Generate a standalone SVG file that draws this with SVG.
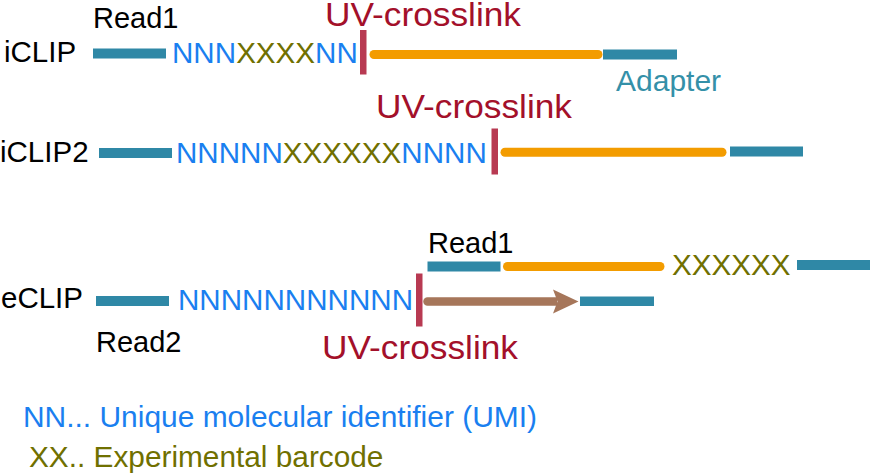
<svg xmlns="http://www.w3.org/2000/svg" width="870" height="474" viewBox="0 0 870 474">
<style>
text{font-family:"Liberation Sans",Arial,sans-serif;}
.lbl{font-size:29.5px;fill:#000;}
.rd{font-size:29px;fill:#000;}
.uv{font-size:32.5px;fill:#A3102A;}
.umi{font-size:29.6px;fill:#1A7FF0;}
.bc{fill:#707000;}
.ad{font-size:30px;fill:#3490A8;}
.bar{fill:#2F88A6;}
.xl{fill:#B83A52;}
.rna{stroke:#F39C00;stroke-width:9;stroke-linecap:round;fill:none;}
.leg{font-size:29.8px;}
.arr{fill:#A6765A;}
</style>

<g id="iclip">
<text class="lbl" x="4" y="62">iCLIP</text>
<text class="rd" x="93" y="28">Read1</text>
<rect class="bar" x="93" y="48.5" width="73" height="10"/>
<text class="umi" x="172" y="62.5">NNN<tspan class="bc">XXXX</tspan>NN</text>
<text class="uv" x="325" y="26" textLength="196" lengthAdjust="spacingAndGlyphs">UV-crosslink</text>
<rect class="xl" x="360" y="30" width="6.5" height="44.5"/>
<line class="rna" x1="374" y1="54.5" x2="598" y2="54.5"/>
<rect class="bar" x="603" y="49.5" width="74" height="10"/>
<text class="ad" x="616" y="90.5">Adapter</text>
</g>

<g id="iclip2">
<text class="lbl" x="0" y="162">iCLIP2</text>
<rect class="bar" x="99" y="148" width="73" height="10"/>
<text class="umi" x="176" y="162.5">NNNNN<tspan class="bc">XXXXXX</tspan>NNNN</text>
<text class="uv" x="376" y="118.3" textLength="196" lengthAdjust="spacingAndGlyphs">UV-crosslink</text>
<rect class="xl" x="491.5" y="128.5" width="6.5" height="46"/>
<line class="rna" x1="505" y1="152.3" x2="722" y2="152.3"/>
<rect class="bar" x="730" y="146.5" width="73" height="10"/>
</g>

<g id="eclip">
<text class="lbl" x="1" y="308">eCLIP</text>
<rect class="bar" x="96" y="296" width="73" height="10"/>
<text class="rd" x="96" y="351.5">Read2</text>
<text class="umi" x="178" y="310">NNNNNNNNNNN</text>
<rect class="xl" x="416" y="273.5" width="6.5" height="53"/>
<text class="uv" x="322" y="359.3" textLength="196" lengthAdjust="spacingAndGlyphs">UV-crosslink</text>
<text class="rd" x="428" y="253">Read1</text>
<rect class="bar" x="427.5" y="261.5" width="73" height="10"/>
<line class="rna" x1="507.5" y1="266.5" x2="660" y2="266.5"/>
<text class="umi bc" x="672" y="275">XXXXXX</text>
<rect class="bar" x="797" y="260" width="73" height="10"/>
<rect class="bar" x="580" y="296.5" width="74" height="9.5"/>
</g>

<g id="connectors">
<path class="arr" d="M427.5,297.25 H557 V305.75 H427.5 A4.25,4.25 0 0 1 427.5,297.25 Z"/>
<path class="arr" d="M553,289.5 L578.5,301.5 L553,313.5 L557.5,301.5 Z"/>
</g>

<g id="legend">
<text class="leg" x="23" y="426.5" fill="#1A7FF0" textLength="514" lengthAdjust="spacingAndGlyphs">NN... Unique molecular identifier (UMI)</text>
<text class="leg" x="29" y="466.5" fill="#707000">XX.. Experimental barcode</text>
</g>
</svg>
